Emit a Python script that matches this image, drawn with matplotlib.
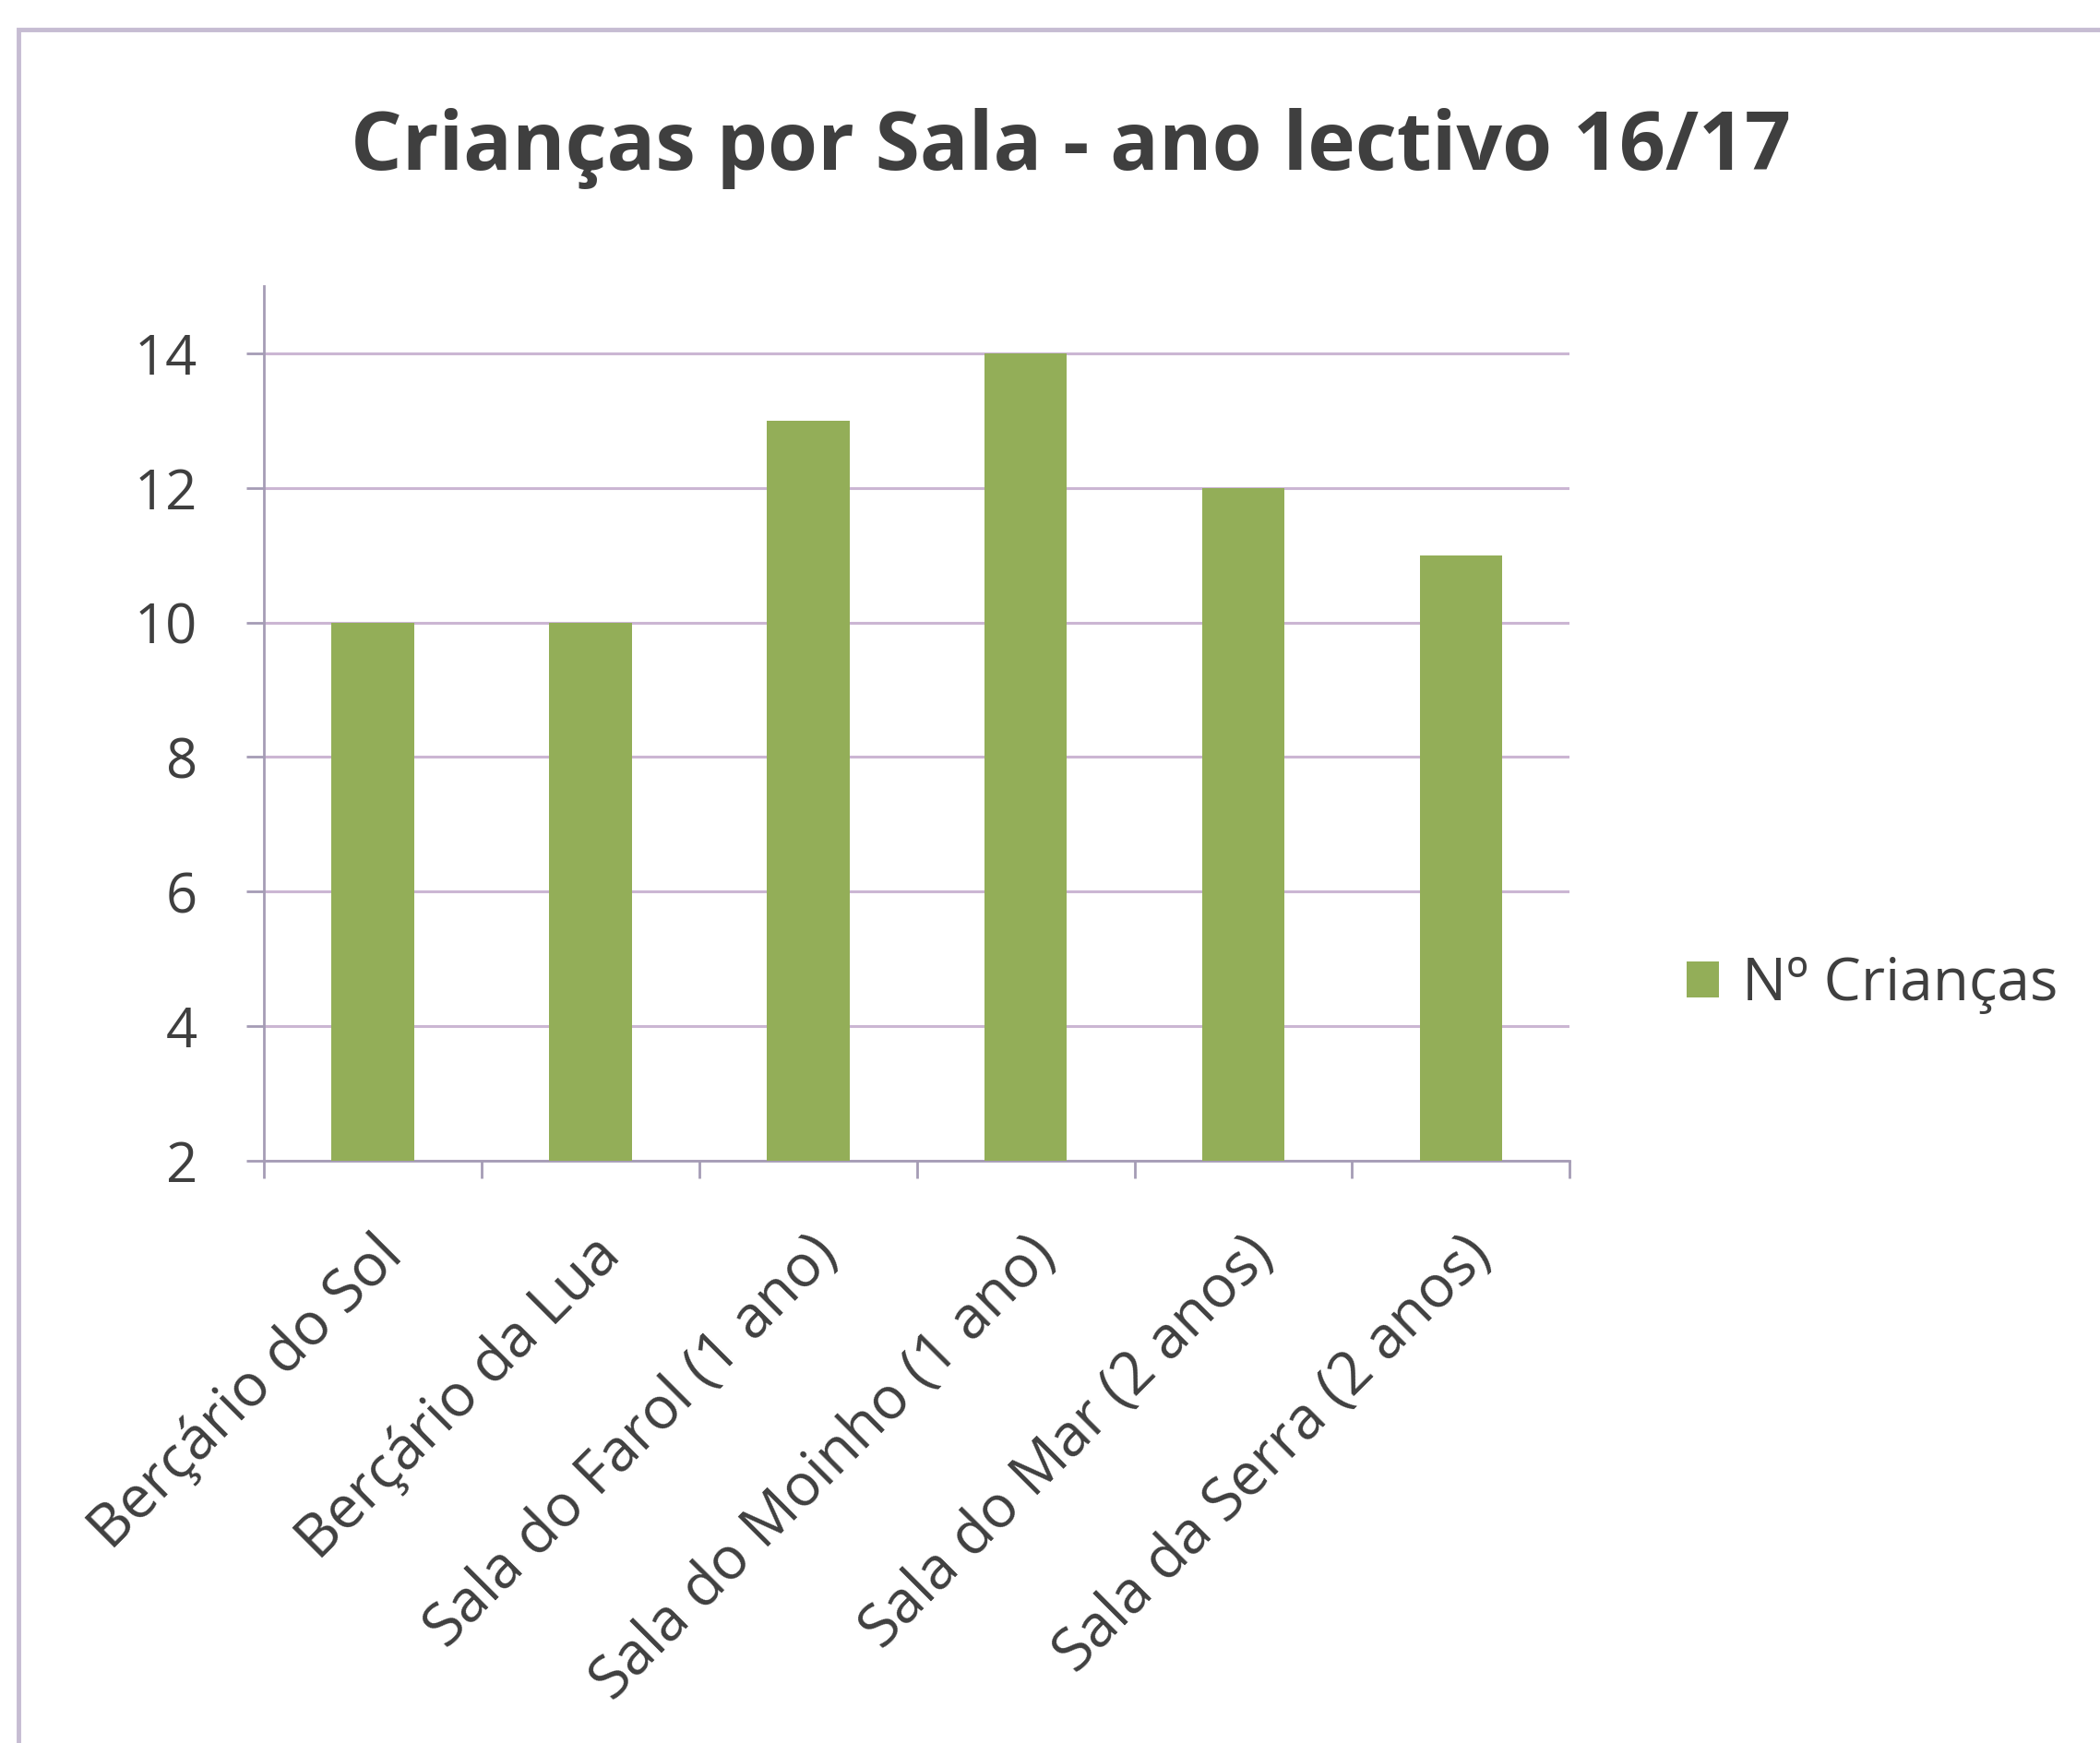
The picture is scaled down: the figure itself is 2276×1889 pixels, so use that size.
import matplotlib
matplotlib.use("Agg")
import matplotlib.pyplot as plt
from matplotlib.patches import Rectangle
import numpy as np

categories = ["Berçário do Sol", "Berçário da Lua", "Sala do Farol (1 ano)",
              "Sala do Moinho (1 ano)", "Sala do Mar (2 anos)", "Sala da Serra (2 anos)"]
values = [10, 10, 13, 14, 12, 11]
series_name = "Nº Crianças"
title = "Crianças por Sala - ano lectivo 16/17"
yticks = [2, 4, 6, 8, 10, 12, 14]

plt.rcParams['font.family'] = ['Open Sans', 'DejaVu Sans']

bar_color = "#93ae58"
grid_color = "#cbb6d3"
axis_color = "#a59cb5"
text_color = "#3f3f3f"

fig = plt.figure(figsize=(22.76, 18.89), dpi=100)
fig.patch.set_facecolor("white")

# outer chart border
fig.patches.append(Rectangle((0.0088, -0.1), 1.2, 1.1 - 0.017, transform=fig.transFigure,
                             fill=False, edgecolor="#c6bcd2", linewidth=3.5))

ax = fig.add_axes([0.1257, 0.334, 0.7475 - 0.1257, 0.836 - 0.334])
x = np.arange(len(categories))
ax.bar(x, values, width=0.38, color=bar_color, label=series_name, zorder=3)

ax.set_xlim(-0.5, len(categories) - 0.5)
ax.set_ylim(2, 15)
ax.set_yticks(yticks)
ax.yaxis.grid(True, color=grid_color, linewidth=2.2, zorder=0)
ax.set_axisbelow(True)

for s in ["top", "right"]:
    ax.spines[s].set_visible(False)
for s in ["left", "bottom"]:
    ax.spines[s].set_color(axis_color)
    ax.spines[s].set_linewidth(2.0)

ax.tick_params(axis="y", length=14, width=2, color=axis_color, labelsize=43,
               labelcolor=text_color, pad=38)
ax.set_xticks(x)
ax.set_xticklabels(categories, rotation=45, ha="right", rotation_mode="anchor",
                   fontsize=46, color=text_color)
ax.tick_params(axis="x", which="major", length=0, pad=50)
ax.set_xticks(np.arange(len(categories) + 1) - 0.5, minor=True)
ax.tick_params(axis="x", which="minor", length=14, width=2, color=axis_color)

fig.text(0.51, 0.915, title, ha="center", va="center", fontsize=63,
         fontweight="bold", color=text_color)

ax.legend(loc="center left", bbox_to_anchor=(0.789, 0.435), bbox_transform=fig.transFigure,
          frameon=False, fontsize=46, handlelength=0.55, handleheight=0.55,
          handletextpad=0.4, borderpad=0, labelcolor=text_color)

fig.savefig("out.png", dpi=100, facecolor="white")
